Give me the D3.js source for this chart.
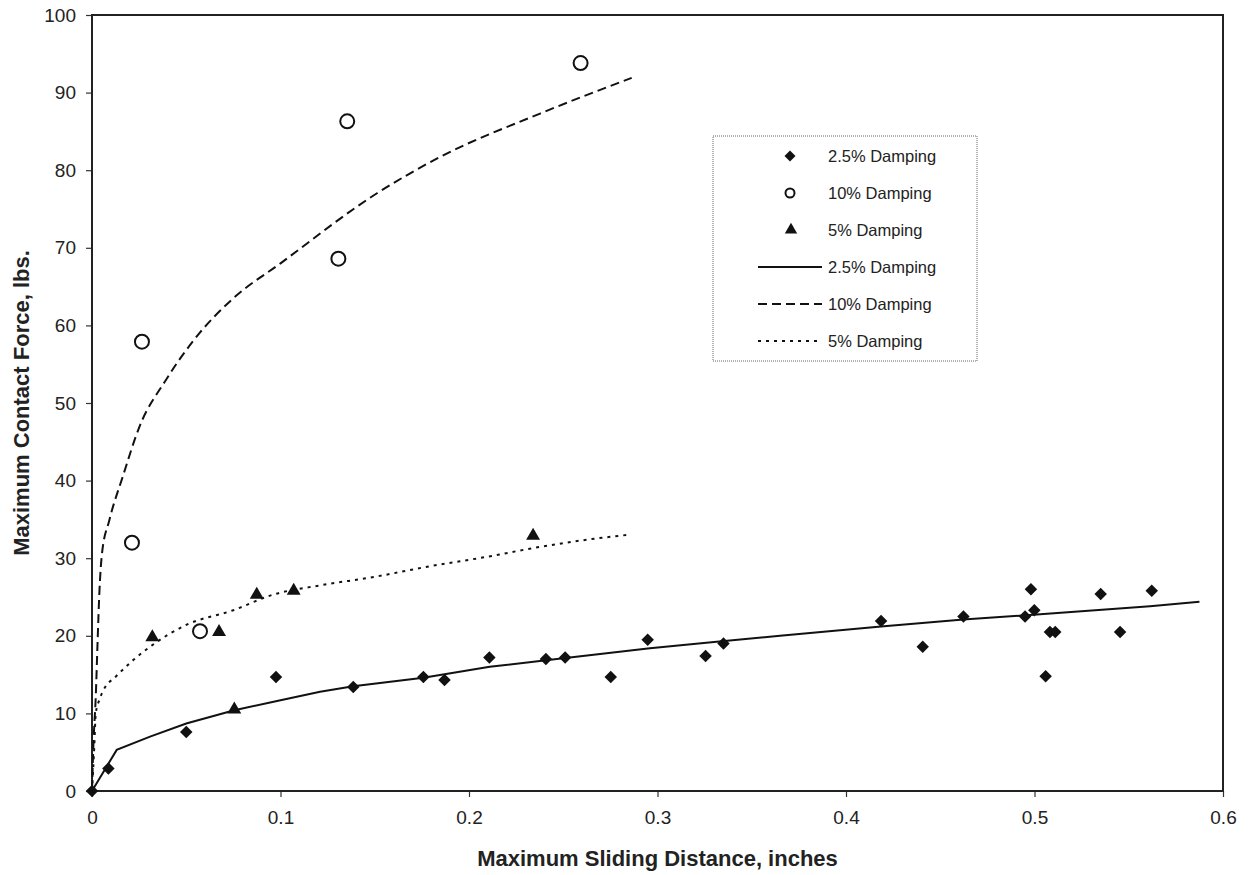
<!DOCTYPE html>
<html>
<head>
<meta charset="utf-8">
<script src="https://cdnjs.cloudflare.com/ajax/libs/d3/7.8.5/d3.min.js"></script>
<style>
  body { margin: 0; background: #fff; }
  text { font-family: Arial, "Liberation Sans", sans-serif; fill: #222; }
</style>
</head>
<body>
<div id="chart"></div>
<script>
var svgWidth = 1251;
var svgHeight = 875;

var margin = { top: 15, right: 28, bottom: 84, left: 92 };
var width = svgWidth - margin.left - margin.right;
var height = svgHeight - margin.top - margin.bottom;

// measured points
var damp25X = [0, 0.0087, 0.050, 0.0976, 0.1386, 0.1758, 0.187, 0.2108, 0.2408, 0.251, 0.2752, 0.2948, 0.3255, 0.335,
  0.4186, 0.4407, 0.4623, 0.4950, 0.4981, 0.4999, 0.5059, 0.5082, 0.511, 0.5351, 0.5454, 0.5622];
var damp25Y = [0, 2.9, 7.6, 14.7, 13.4, 14.7, 14.3, 17.2, 17.0, 17.2, 14.7, 19.5, 17.4, 19.0,
  21.9, 18.6, 22.5, 22.5, 26.0, 23.3, 14.8, 20.5, 20.5, 25.4, 20.5, 25.8];

var damp10X = [0.0212, 0.0265, 0.0573, 0.1307, 0.1354, 0.2592];
var damp10Y = [32.0, 57.9, 20.6, 68.6, 86.3, 93.8];

var damp5X = [0.032, 0.0674, 0.0755, 0.0874, 0.107, 0.234];
var damp5Y = [19.8, 20.5, 10.5, 25.3, 25.8, 32.9];

// trend curves
var fit25X = [0, 0.0131, 0.0308, 0.050, 0.0755, 0.100, 0.121, 0.1386, 0.1758, 0.211, 0.250, 0.296, 0.330, 0.365,
  0.4186, 0.4623, 0.4994, 0.5613, 0.5875];
var fit25Y = [0, 5.3, 7.0, 8.7, 10.4, 11.7, 12.8, 13.5, 14.6, 16.0, 17.1, 18.4, 19.2, 20.0,
  21.2, 22.1, 22.7, 23.8, 24.4];

var fit10X = [0, 0.0007, 0.002, 0.003, 0.0039, 0.0053, 0.0092, 0.0163, 0.0251, 0.0393, 0.057, 0.075, 0.100,
  0.151, 0.1846, 0.2377, 0.2863];
var fit10Y = [0, 5.7, 12.2, 19.5, 25.5, 30.6, 34.9, 40.5, 46.9, 53.0, 59.0, 63.5, 68.0,
  77.0, 81.7, 87.3, 91.9];

var fit5X = [0, 0.0012, 0.002, 0.004, 0.007, 0.012, 0.022, 0.032, 0.050, 0.075, 0.096, 0.121, 0.150, 0.180,
  0.210, 0.234, 0.260, 0.284];
var fit5Y = [0, 5.7, 10.0, 11.8, 13.4, 14.6, 16.9, 18.8, 21.4, 23.3, 25.3, 26.5, 27.6, 29.0,
  30.2, 31.3, 32.3, 33.0];

var xTicks = [0, 0.1, 0.2, 0.3, 0.4, 0.5, 0.6];
var yTicks = [0, 10, 20, 30, 40, 50, 60, 70, 80, 90, 100];

var legendLabels = ["2.5% Damping", "10% Damping", "5% Damping", "2.5% Damping", "10% Damping", "5% Damping"];

function zip(xs, ys) {
  return xs.map(function(x, i) { return { x: x, y: ys[i] }; });
}

var svg = d3.select("#chart")
  .append("svg")
  .attr("width", svgWidth)
  .attr("height", svgHeight);

var chartGroup = svg.append("g")
  .attr("transform", `translate(${margin.left}, ${margin.top})`);

var xScale = d3.scaleLinear().domain([0, 0.6]).range([0, width]);
var yScale = d3.scaleLinear().domain([0, 100]).range([height, 0]);

// axes
var bottomAxis = d3.axisBottom(xScale).tickValues(xTicks).tickSize(6).tickPadding(14)
  .tickFormat(function(d) { return d === 0 ? "0" : d3.format(".1f")(d); });
var leftAxis = d3.axisLeft(yScale).tickValues(yTicks).tickSize(6).tickPadding(10);

var xAxis = chartGroup.append("g")
  .attr("transform", `translate(0, ${height})`)
  .call(bottomAxis);
var yAxis = chartGroup.append("g").call(leftAxis);

[xAxis, yAxis].forEach(function(ax) {
  ax.select(".domain").remove();
  ax.selectAll("line").attr("stroke", "#333").attr("stroke-width", 1.2);
  ax.selectAll("text").style("font-size", "19px").attr("fill", "#222");
});

// frame
chartGroup.append("rect")
  .attr("width", width)
  .attr("height", height)
  .attr("fill", "none")
  .attr("stroke", "#222")
  .attr("stroke-width", 2);

// trend lines
var lineStyles = [
  { data: zip(fit25X, fit25Y), dash: null, curve: d3.curveLinear },
  { data: zip(fit10X, fit10Y), dash: "9,5", curve: d3.curveMonotoneX },
  { data: zip(fit5X, fit5Y), dash: "3,5", curve: d3.curveMonotoneX }
];

lineStyles.forEach(function(s) {
  var line = d3.line()
    .x(d => xScale(d.x))
    .y(d => yScale(d.y))
    .curve(s.curve);
  chartGroup.append("path")
    .datum(s.data)
    .attr("d", line)
    .attr("fill", "none")
    .attr("stroke", "#111")
    .attr("stroke-width", 2)
    .attr("stroke-dasharray", s.dash);
});

// markers
var diamond = d3.symbol().type(d3.symbolSquare).size(78);
var triangle = d3.symbol().type(d3.symbolTriangle).size(84);

chartGroup.selectAll(".d25")
  .data(zip(damp25X, damp25Y))
  .enter()
  .append("path")
  .attr("d", diamond)
  .attr("transform", d => `translate(${xScale(d.x)}, ${yScale(d.y)}) rotate(45)`)
  .attr("fill", "#111");

chartGroup.selectAll(".d10")
  .data(zip(damp10X, damp10Y))
  .enter()
  .append("circle")
  .attr("cx", d => xScale(d.x))
  .attr("cy", d => yScale(d.y))
  .attr("r", 7)
  .attr("fill", "#fff")
  .attr("stroke", "#111")
  .attr("stroke-width", 2);

chartGroup.selectAll(".d5")
  .data(zip(damp5X, damp5Y))
  .enter()
  .append("path")
  .attr("d", triangle)
  .attr("transform", d => `translate(${xScale(d.x)}, ${yScale(d.y)})`)
  .attr("fill", "#111");

// axis titles
svg.append("text")
  .attr("x", margin.left + width / 2)
  .attr("y", 866)
  .attr("text-anchor", "middle")
  .style("font-size", "22px")
  .style("font-weight", "bold")
  .text("Maximum Sliding Distance, inches");

svg.append("text")
  .attr("transform", `translate(29, ${margin.top + height / 2}) rotate(-90)`)
  .attr("text-anchor", "middle")
  .style("font-size", "22px")
  .style("font-weight", "bold")
  .text("Maximum Contact Force, lbs.");

// legend
var legend = svg.append("g").attr("transform", "translate(713, 136)");

legend.append("rect")
  .attr("width", 264)
  .attr("height", 225)
  .attr("fill", "#fff")
  .attr("stroke", "#666")
  .attr("stroke-width", 1)
  .attr("stroke-dasharray", "1,1");

var rowY = [20, 57, 94, 131, 168, 205];

legendLabels.forEach(function(label, i) {
  var cy = rowY[i];
  if (i === 0) {
    legend.append("path")
      .attr("d", d3.symbol().type(d3.symbolSquare).size(60))
      .attr("transform", `translate(77, ${cy}) rotate(45)`)
      .attr("fill", "#111");
  } else if (i === 1) {
    legend.append("circle")
      .attr("cx", 77).attr("cy", cy).attr("r", 4.5)
      .attr("fill", "#fff").attr("stroke", "#111").attr("stroke-width", 2);
  } else if (i === 2) {
    legend.append("path")
      .attr("d", d3.symbol().type(d3.symbolTriangle).size(66))
      .attr("transform", `translate(78, ${cy})`)
      .attr("fill", "#111");
  } else {
    legend.append("line")
      .attr("x1", 45).attr("x2", 109)
      .attr("y1", cy).attr("y2", cy)
      .attr("stroke", "#111")
      .attr("stroke-width", 2)
      .attr("stroke-dasharray", lineStyles[i - 3].dash);
  }
  legend.append("text")
    .attr("x", 115)
    .attr("y", cy + 6)
    .style("font-size", "16.5px")
    .text(label);
});
</script>
</body>
</html>
